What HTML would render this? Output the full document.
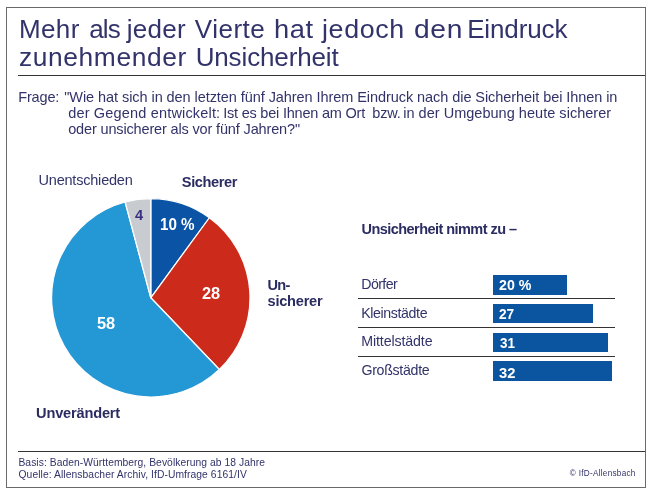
<!DOCTYPE html>
<html lang="de"><head><meta charset="utf-8"><title>Sicherheit</title>
<style>
html,body{margin:0;padding:0;background:#fff;}
body{width:657px;height:499px;position:relative;overflow:hidden;font-family:"Liberation Sans",sans-serif;color:#32336a;}
.frame{position:absolute;left:6px;top:7px;width:638px;height:479px;border:1px solid #6a6a6a;}
.hl{position:absolute;height:1px;background:#333;}
.t{position:absolute;white-space:nowrap;line-height:1;transform-origin:0 0;}
h1{margin:0;font-size:26px;font-weight:normal;}
.b{font-weight:bold;color:#2b2c62;}
.bar{position:absolute;background:#0b55a0;}
.w{color:#fff;}
.p{color:#3b2f80;}
svg{position:absolute;left:0;top:0;}
</style></head><body>
<div class="frame"></div>
<div class="hl" style="left:18px;top:75px;width:627px;"></div>
<div class="hl" style="left:18px;top:451px;width:627px;"></div>

<h1><span class="t" id="t1" style="left:18.90px;top:16.00px;font-size:26px;letter-spacing:0.400px;">Mehr</span> <span class="t" id="t1b" style="left:89.15px;top:16.00px;font-size:26px;letter-spacing:-0.825px;">als</span> <span class="t" id="t1c" style="left:126.75px;top:16.00px;font-size:26px;letter-spacing:0.262px;">jeder</span> <span class="t" id="t1d" style="left:194.80px;top:16.00px;font-size:26px;letter-spacing:0.500px;">Vierte</span> <span class="t" id="t1e" style="left:274.00px;top:16.00px;font-size:26px;letter-spacing:0.600px;transform:scaleX(1.0493);">hat</span> <span class="t" id="t1f" style="left:322.00px;top:16.00px;font-size:26px;letter-spacing:0.600px;transform:scaleX(1.0324);">jedoch</span> <span class="t" id="t1g" style="left:414.00px;top:16.00px;font-size:26px;letter-spacing:0.600px;transform:scaleX(1.0846);">den</span> <span class="t" id="t1h" style="left:467.15px;top:16.00px;font-size:26px;letter-spacing:-0.121px;">Eindruck</span>
<span class="t" id="t2" style="left:19.00px;top:44.00px;font-size:26px;letter-spacing:0.600px;transform:scaleX(1.0135);">zunehmender</span> <span class="t" id="t2b" style="left:195.65px;top:44.00px;font-size:26px;letter-spacing:-0.132px;">Unsicherheit</span></h1>

<div class="t" id="q0" style="left:18.25px;top:90.00px;font-size:14.5px;letter-spacing:-0.170px;">Frage:</div>
<div class="t" id="q1" style="left:64.25px;top:90.00px;font-size:14.5px;letter-spacing:-0.066px;">"Wie hat sich in den letzten fünf Jahren Ihrem Eindruck nach die Sicherheit bei Ihnen in</div>
<div class="t" id="q2" style="left:68.20px;top:106.00px;font-size:14.5px;letter-spacing:0.174px;">der Gegend entwickelt:</div>
<div class="t" id="q2b" style="left:223.15px;top:106.00px;font-size:14.5px;letter-spacing:-0.209px;">Ist es bei Ihnen am Ort</div>
<div class="t" id="q2c" style="left:372.35px;top:106.00px;font-size:14.5px;letter-spacing:-0.200px;">bzw.</div>
<div class="t" id="q2d" style="left:403.15px;top:106.00px;font-size:14.5px;letter-spacing:0.029px;">in der Umgebung heute sicherer</div>
<div class="t" id="q3" style="left:68.20px;top:122.00px;font-size:14.5px;letter-spacing:-0.151px;">oder unsicherer als vor fünf Jahren?"</div>

<svg width="657" height="499" viewBox="0 0 657 499">
<path d="M150.8,297.8 L150.80,198.60 A99.2,99.2 0 0 1 209.39,217.75 Z" fill="#0b53a5" stroke="#fff" stroke-width="1.25" stroke-linejoin="round"/>
<path d="M150.8,297.8 L209.39,217.75 A99.2,99.2 0 0 1 219.34,369.52 Z" fill="#cc2a1a" stroke="#fff" stroke-width="1.25" stroke-linejoin="round"/>
<path d="M150.8,297.8 L219.34,369.52 A99.2,99.2 0 1 1 125.13,201.98 Z" fill="#2497d5" stroke="#fff" stroke-width="1.25" stroke-linejoin="round"/>
<path d="M150.8,297.8 L125.13,201.98 A99.2,99.2 0 0 1 150.80,198.60 Z" fill="#c8ccd1" stroke="#fff" stroke-width="1.25" stroke-linejoin="round"/>
</svg>

<div class="t" id="l1" style="left:38.50px;top:173.00px;font-size:14.5px;letter-spacing:-0.204px;">Unentschieden</div>
<div class="t b" id="l2" style="left:181.85px;top:175.00px;font-size:14.6px;letter-spacing:-0.400px;">Sicherer</div>
<div class="t b" id="l3" style="left:267.45px;top:278.00px;font-size:14.6px;letter-spacing:-0.675px;">Un-</div>
<div class="t b" id="l4" style="left:267.50px;top:294.00px;font-size:14.6px;letter-spacing:-0.236px;">sicherer</div>
<div class="t b" id="l5" style="left:36.10px;top:406.00px;font-size:14.6px;letter-spacing:-0.185px;">Unverändert</div>

<div class="t b p" id="n4" style="left:135.00px;top:208.00px;font-size:14.3px;transform:scaleX(1.0271);">4</div>
<div class="t b w" id="n10" style="left:160.00px;top:216.00px;font-size:16.2px;transform:scaleX(0.9381);">10 %</div>
<div class="t b w" id="n28" style="left:202.00px;top:285.00px;font-size:16.2px;transform:scaleX(1.0119);">28</div>
<div class="t b w" id="n58" style="left:97.00px;top:315.00px;font-size:16.2px;transform:scaleX(1.0119);">58</div>

<div class="t b" id="h2" style="left:361.60px;top:222.00px;font-size:14.5px;letter-spacing:-0.555px;">Unsicherheit nimmt zu –</div>

<div class="t" id="c1" style="left:361.25px;top:277.00px;font-size:14.2px;letter-spacing:-0.600px;">Dörfer</div>
<div class="t" id="c2" style="left:361.25px;top:306.00px;font-size:14.2px;letter-spacing:-0.390px;">Kleinstädte</div>
<div class="t" id="c3" style="left:361.25px;top:334.00px;font-size:14.2px;letter-spacing:-0.114px;">Mittelstädte</div>
<div class="t" id="c4" style="left:361.40px;top:363.00px;font-size:14.2px;letter-spacing:-0.294px;">Großstädte</div>

<div class="hl" style="left:358px;top:298px;width:257px;"></div>
<div class="hl" style="left:358px;top:327px;width:257px;"></div>
<div class="hl" style="left:358px;top:356px;width:257px;"></div>

<div class="bar" style="left:493.2px;top:275px;width:73.5px;height:19.5px;"></div>
<div class="bar" style="left:493.2px;top:304.2px;width:99.7px;height:18.6px;"></div>
<div class="bar" style="left:493.2px;top:333.2px;width:114.9px;height:18.5px;"></div>
<div class="bar" style="left:493.2px;top:361.2px;width:118.7px;height:19.4px;"></div>

<div class="t b w" id="b1" style="left:499.00px;top:277.00px;font-size:15.3px;transform:scaleX(0.9265);">20 %</div>
<div class="t b w" id="b2" style="left:499.00px;top:306.00px;font-size:15.3px;transform:scaleX(0.8921);">27</div>
<div class="t b w" id="b3" style="left:500.00px;top:335.00px;font-size:15.3px;transform:scaleX(0.8785);">31</div>
<div class="t b w" id="b4" style="left:499.00px;top:365.00px;font-size:15.3px;transform:scaleX(0.9657);">32</div>

<div class="t" id="f1" style="left:18.45px;top:458.00px;font-size:10.3px;letter-spacing:0.055px;">Basis: Baden-Württemberg, Bevölkerung ab 18 Jahre</div>
<div class="t" id="f2" style="left:18.50px;top:470.00px;font-size:10.3px;letter-spacing:0.076px;">Quelle: Allensbacher Archiv, IfD-Umfrage 6161/IV</div>
<div class="t" id="f3" style="left:569.85px;top:470.00px;font-size:8.2px;letter-spacing:0.267px;">© IfD-Allensbach</div>
</body></html>
